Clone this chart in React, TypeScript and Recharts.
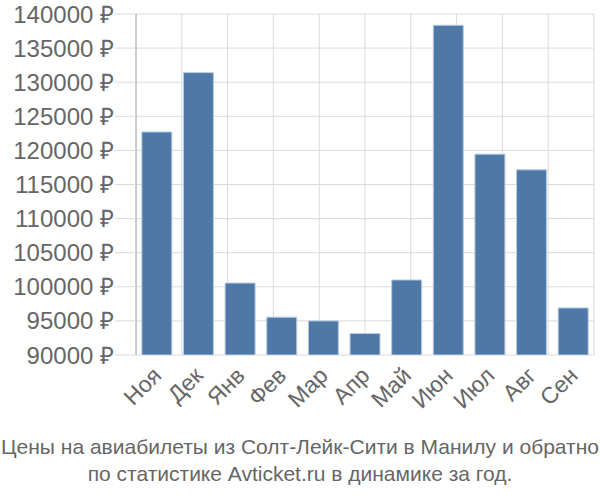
import { BarChart, Bar, XAxis, YAxis, CartesianGrid } from 'recharts';

const months = ['Ноя', 'Дек', 'Янв', 'Фев', 'Мар', 'Апр', 'Май', 'Июн', 'Июл', 'Авг', 'Сен'];
const prices = [122700, 131400, 100550, 95550, 95000, 93150, 101000, 138350, 119450, 117150, 96900];
const yTicks = [90000, 95000, 100000, 105000, 110000, 115000, 120000, 125000, 130000, 135000, 140000];
const boundaryTicks = [0, 1, 2, 3, 4, 5, 6, 7, 8, 9, 10, 11];
const titleLines = [
  'Цены на авиабилеты из Солт-Лейк-Сити в Манилу и обратно',
  'по статистике Avticket.ru в динамике за год.',
];

const data = months.map((month, i) => ({ month, price: prices[i] }));

const FONT = '"Liberation Sans", Arial, sans-serif';

function MonthTick(props: any) {
  const { x, y, payload } = props;
  return (
    <text
      x={x + 6}
      y={y + 14}
      transform={`rotate(-45 ${x + 6} ${y + 14})`}
      textAnchor="end"
      fill="#666"
      fontSize={23}
      fontFamily={FONT}
    >
      {payload.value}
    </text>
  );
}

export default function App() {
  return (
    <div style={{ position: 'absolute', left: 0, top: 0, width: 600, height: 500, fontFamily: FONT }}>
      <BarChart
        width={600}
        height={500}
        data={data}
        margin={{ top: 14, right: 6, left: 0, bottom: 0 }}
        barCategoryGap="14%"
      >
        <CartesianGrid xAxisId="grid" stroke="#dadada" strokeWidth={1} />
        <XAxis
          xAxisId="grid"
          type="number"
          domain={[0, 11]}
          ticks={boundaryTicks}
          height={0}
          tickSize={20}
          tickLine={{ stroke: '#dadada' }}
          axisLine={{ stroke: '#cccccc' }}
          tick={() => <g />}
          interval={0}
        />
        <XAxis
          xAxisId="cat"
          dataKey="month"
          height={145}
          interval={0}
          axisLine={false}
          tickLine={false}
          tick={<MonthTick />}
        />
        <YAxis
          width={136}
          domain={[90000, 140000]}
          ticks={yTicks}
          interval={0}
          allowDataOverflow
          tickSize={21}
          tickMargin={1}
          tickLine={{ stroke: '#dadada' }}
          axisLine={{ stroke: '#aaaaaa' }}
          tickFormatter={(v: number) => `${v} ₽`}
          tick={{ fill: '#666', fontSize: 24, fontFamily: FONT }}
        />
        <Bar
          xAxisId="cat"
          dataKey="price"
          fill="#4e79a7"
          stroke="#b8cbe2"
          strokeWidth={1}
          isAnimationActive={false}
        />
      </BarChart>
      {titleLines.map((line, i) => (
        <div
          key={i}
          style={{
            position: 'absolute',
            left: 0,
            width: 600,
            top: 434 + i * 27,
            textAlign: 'center',
            fontSize: 21,
            color: '#666',
            lineHeight: '26px',
            whiteSpace: 'nowrap',
          }}
        >
          {line}
        </div>
      ))}
    </div>
  );
}
